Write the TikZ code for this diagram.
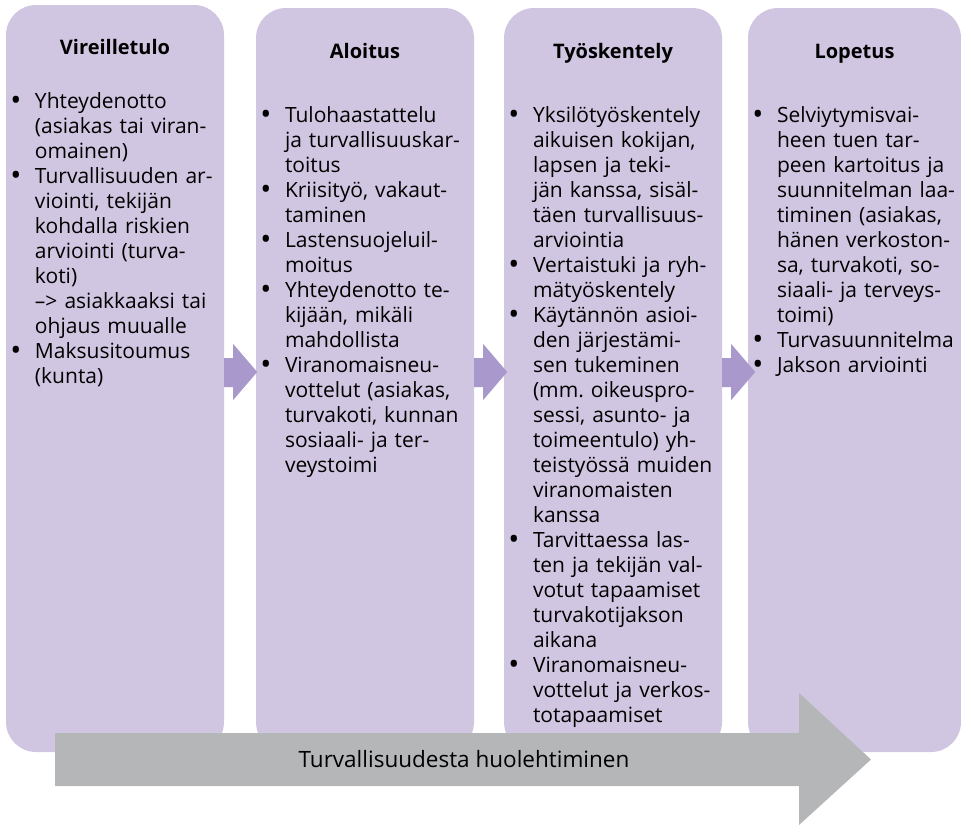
\documentclass[tikz,border=0pt]{standalone}
\usepackage{fontspec}
\setmainfont{Open Sans}
\usepackage{enumitem}
\frenchspacing
\definecolor{phasefill}{RGB}{209,198,225}
\definecolor{stepfill}{RGB}{168,152,203}
\definecolor{bandfill}{RGB}{181,182,184}
\tikzset{
  phase box/.style={
    rounded corners=30pt,
    fill=phasefill,
    minimum width=218pt,
    minimum height=744pt,
    inner sep=0pt,
  },
  phase title/.style={
    anchor=base,
    inner sep=0pt,
    font=\fontsize{20}{24}\selectfont\bfseries,
  },
  phase list/.style={
    anchor=north west,
    inner sep=0pt,
    xshift=5pt,
    text width=260pt,
    font=\fontsize{21}{25}\selectfont,
  },
  step arrow/.style={fill=stepfill},
  band/.style={fill=bandfill},
  band text/.style={inner sep=0pt, font=\fontsize{22.5}{26}\selectfont},
}
\newcommand{\phasebullet}{\makebox[10pt][c]{\raisebox{-0.12em}{\scalebox{1.4}{•}}}}
\newcommand{\phaseitems}[1]{%
  \begin{itemize}[label=\phasebullet, labelindent=0pt, labelwidth=10pt, labelsep=14pt,
    leftmargin=!, align=left, itemsep=0pt, topsep=0pt, parsep=0pt, partopsep=0pt]
  #1
  \end{itemize}}

\begin{document}
\begin{tikzpicture}[x=1pt, y=-1pt]
        \useasboundingbox (0,0) rectangle (961,825);

        \node[phase box, minimum height=747pt] (vire) at (115,378.5) {};
        \node[phase box] (aloi) at (365,380) {};
        \node[phase box] (tyos) at (613,380) {};
        \node[phase box, minimum width=213pt] (lope) at (854.5,380) {};

        \node[phase title] (vire title) at (vire.north |- 0,54) {Vireilletulo};
        \node[phase title] (aloi title) at (aloi.north |- 0,58) {Aloitus};
        \node[phase title] (tyos title) at (tyos.north |- 0,58) {Työskentely};
        \node[phase title] (lope title) at (lope.north |- 0,58) {Lopetus};

        \node[phase list] (vire list) at (vire.west |- 0,83) {\phaseitems{
          \item Yhteydenotto\\(asiakas tai viran-\\omainen)
          \item Turvallisuuden ar-\\viointi, tekijän\\kohdalla riskien\\arviointi (turva-\\koti)\\–> asiakkaaksi tai\\ohjaus muualle
          \item Maksusitoumus\\(kunta)}};
        \node[phase list] (aloi list) at (aloi.west |- 0,97) {\phaseitems{
          \item Tulohaastattelu\\ja turvallisuuskar-\\toitus
          \item Kriisityö, vakaut-\\taminen
          \item Lastensuojeluil-\\moitus
          \item Yhteydenotto te-\\kijään, mikäli\\mahdollista
          \item Viranomaisneu-\\vottelut (asiakas,\\turvakoti, kunnan\\sosiaali- ja ter-\\veystoimi}};
        \node[phase list] (tyos list) at (tyos.west |- 0,97) {\phaseitems{
          \item Yksilötyöskentely\\aikuisen kokijan,\\lapsen ja teki-\\jän kanssa, sisäl-\\täen turvallisuus-\\arviointia
          \item Vertaistuki ja ryh-\\mätyöskentely
          \item Käytännön asioi-\\den järjestämi-\\sen tukeminen\\(mm. oikeuspro-\\sessi, asunto- ja\\toimeentulo) yh-\\teistyössä muiden\\viranomaisten\\kanssa
          \item Tarvittaessa las-\\ten ja tekijän val-\\votut tapaamiset\\turvakotijakson\\aikana
          \item Viranomaisneu-\\vottelut ja verkos-\\totapaamiset}};
        \node[phase list] (lope list) at (lope.west |- 0,97) {\phaseitems{
          \item Selviytymisvai-\\heen tuen tar-\\peen kartoitus ja\\suunnitelman laa-\\timinen (asiakas,\\hänen verkoston-\\sa, turvakoti, so-\\siaali- ja terveys-\\toimi)
          \item Turvasuunnitelma
          \item Jakson arviointi}};

        \foreach \from in {vire, aloi, tyos}
          \fill[step arrow] (\from.east |- 0,358) -- ++(9,0) -- ++(0,-14) -- ++(24,28)
          -- ++(-24,28) -- ++(0,-13) -- ++(-9,0) -- cycle;

        \fill[band] (55,733) -- (799,733) -- (799,693) -- (871,759.5)
        -- (799,825) -- (799,786) -- (55,786) -- cycle;
        \node[band text] (care) at (464,759.5) {Turvallisuudesta huolehtiminen};
      \end{tikzpicture}
\end{document}
